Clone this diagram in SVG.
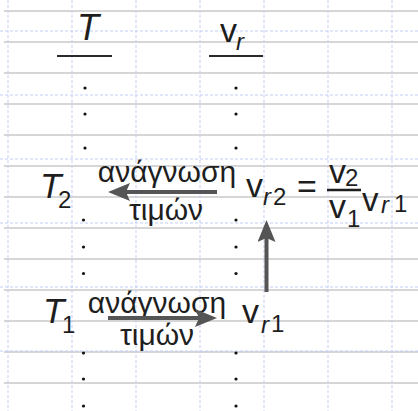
<svg xmlns="http://www.w3.org/2000/svg" width="418" height="411" viewBox="0 0 418 411">
  <style>
    .g { stroke: #d6d6d6; stroke-width: 2; fill: none; }
    .d { stroke: #c3cef5; stroke-width: 1; stroke-dasharray: 3 2; fill: none; }
    .t { font-family: "Liberation Sans", Arial, sans-serif; fill: #1e1e1e; }
    .it { font-style: italic; }
    .gr { font-family: "Liberation Sans", Arial, sans-serif; fill: #1e1e1e; font-size: 30px; text-anchor: middle; }
    .dot { fill: #111; }
    .ul { stroke: #2a2a2a; stroke-width: 2; }
    .arr { stroke: #555; stroke-width: 4; fill: none; marker-end: url(#ah); }
  </style>
  <defs>
    <marker id="ah" markerUnits="userSpaceOnUse" viewBox="0 0 22 18" refX="12" refY="9" markerWidth="22" markerHeight="18" orient="auto">
      <path d="M0,0 L22,9 L0,18 L4,9 Z" fill="#555"/>
    </marker>
  </defs>
  <rect width="418" height="411" fill="#ffffff"/>
  <g id="grid">
    <path class="g" d="M4,11H418 M4,42H418 M4,73H418 M4,104H418 M4,135H418 M4,166H418 M4,197H418 M4,228H418 M4,259H418 M4,290H418 M4,321H418 M4,352H418 M4,383H418"/>
    <path class="d" d="M8,0V411 M72,0V411 M136,0V411 M200,0V411 M264,0V411 M328,0V411 M392,0V411"/>
    <path class="d" d="M0,31H418 M0,95H418 M0,159H418 M0,223H418 M0,287H418 M0,351H418"/>
  </g>
  <g id="header-T">
    <text class="t it" x="77" y="40" font-size="36">T</text>
    <line class="ul" x1="57" y1="56" x2="112" y2="56"/>
  </g>
  <g id="header-vr">
    <text class="t" x="220" y="42" font-size="34">v</text>
    <text class="t it" x="236" y="50" font-size="24">r</text>
    <line class="ul" x1="209" y1="56" x2="263" y2="56"/>
  </g>
  <g id="dots">
    <circle class="dot" cx="85" cy="88" r="1.6"/>
    <circle class="dot" cx="85" cy="114" r="1.6"/>
    <circle class="dot" cx="85" cy="148" r="1.6"/>
    <circle class="dot" cx="83.5" cy="220" r="1.6"/>
    <circle class="dot" cx="83.5" cy="247" r="1.6"/>
    <circle class="dot" cx="83.5" cy="273.5" r="1.6"/>
    <circle class="dot" cx="83.5" cy="353" r="1.6"/>
    <circle class="dot" cx="83.5" cy="379" r="1.6"/>
    <circle class="dot" cx="83.5" cy="406" r="1.6"/>
    <circle class="dot" cx="236" cy="88" r="1.6"/>
    <circle class="dot" cx="236" cy="114" r="1.6"/>
    <circle class="dot" cx="236" cy="148" r="1.6"/>
    <circle class="dot" cx="236" cy="220" r="1.6"/>
    <circle class="dot" cx="236" cy="247" r="1.6"/>
    <circle class="dot" cx="236" cy="273.5" r="1.6"/>
    <circle class="dot" cx="236" cy="353" r="1.6"/>
    <circle class="dot" cx="236" cy="379" r="1.6"/>
    <circle class="dot" cx="236" cy="406" r="1.6"/>
  </g>
  <g id="T2">
    <text class="t it" x="40" y="198" font-size="35">T</text>
    <text class="t" x="58" y="208" font-size="24">2</text>
  </g>
  <g id="T1">
    <text class="t it" x="43" y="323" font-size="35">T</text>
    <text class="t" x="62" y="333" font-size="24">1</text>
  </g>
  <g id="label-read-2">
    <text class="gr" x="167" y="182">ανάγνωση</text>
    <text class="gr" x="166" y="220">τιμών</text>
  </g>
  <g id="label-read-1">
    <text class="gr" x="157" y="313" font-size="31">ανάγνωση</text>
    <text class="gr" x="157" y="345" font-size="31">τιμών</text>
  </g>
  <g id="vr2-eq">
    <text class="t" x="246" y="197" font-size="34">v</text>
    <text class="t it" x="263" y="205" font-size="24">r</text>
    <text class="t" x="273" y="205" font-size="24">2</text>
    <text class="t" x="297" y="198" font-size="34">=</text>
    <text class="t" x="329" y="183" font-size="34">v</text>
    <text class="t" x="345" y="186" font-size="24">2</text>
    <line x1="327" y1="190" x2="361" y2="190" stroke="#1e1e1e" stroke-width="2.5"/>
    <text class="t" x="329" y="218" font-size="34">v</text>
    <text class="t" x="347" y="227" font-size="24">1</text>
    <text class="t" x="362" y="211" font-size="33">v</text>
    <text class="t it" x="381" y="213" font-size="24">r</text>
    <text class="t" x="394" y="212" font-size="24">1</text>
  </g>
  <g id="vr1">
    <text class="t" x="242" y="323" font-size="34">v</text>
    <text class="t it" x="261" y="333" font-size="24">r</text>
    <text class="t" x="271" y="332" font-size="24">1</text>
  </g>
  <g id="connectors">
    <line class="arr" x1="217" y1="192" x2="118" y2="192"/>
    <line class="arr" x1="108" y1="318" x2="207" y2="318"/>
    <line class="arr" x1="266.5" y1="292" x2="266.5" y2="230"/>
  </g>
</svg>
